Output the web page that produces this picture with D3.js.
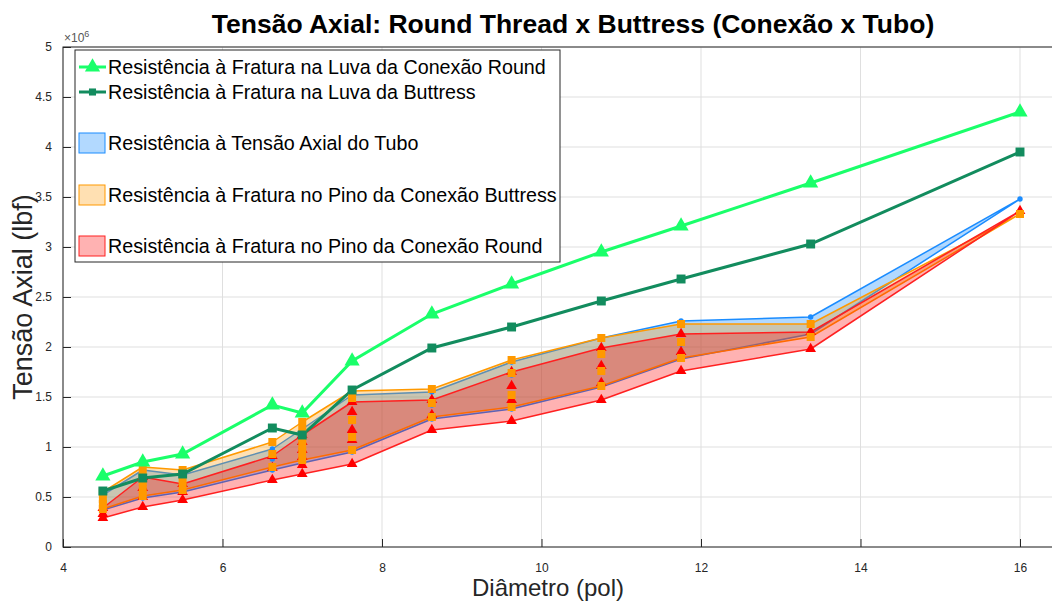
<!DOCTYPE html>
<html>
<head>
<meta charset="utf-8">
<script src="https://cdn.jsdelivr.net/npm/d3@7"></script>
<style>
  body { margin: 0; background: #fff; }
  svg { display: block; font-family: "Liberation Sans", Arial, Helvetica, sans-serif; }
</style>
</head>
<body>
<div id="canvas"></div>
<script>
// diameters (pol)
var diam = [4.5, 5, 5.5, 6.625, 7, 7.625, 8.625, 9.625, 10.75, 11.75, 13.375, 16];

// luva (coupling) fracture strength, x 1e6 lbf
var luvaRound    = [0.71, 0.85, 0.93, 1.42, 1.34, 1.86, 2.33, 2.63, 2.95, 3.21, 3.64, 4.35];
var luvaButtress = [0.56, 0.69, 0.73, 1.19, 1.12, 1.57, 1.99, 2.20, 2.46, 2.68, 3.03, 3.95];

// tube body yield, one list of grades per diameter
var tubo = [
  [0.37, 0.44, 0.52],
  [0.49, 0.56, 0.63, 0.70, 0.77],
  [0.55, 0.63, 0.72],
  [0.77, 0.88, 0.98],
  [0.84, 0.92, 1.00, 1.08, 1.18],
  [0.95, 1.09, 1.26, 1.47, 1.52],
  [1.28, 1.42, 1.55],
  [1.38, 1.50, 1.72, 1.85],
  [1.60, 1.75, 1.92, 2.09],
  [1.88, 2.03, 2.26],
  [2.13, 2.30],
  [3.48]
];

// pin fracture, buttress
var pinoButtress = [
  [0.38, 0.43, 0.48, 0.55],
  [0.51, 0.58, 0.65, 0.72, 0.80],
  [0.57, 0.65, 0.77],
  [0.80, 0.93, 1.05],
  [0.87, 0.95, 1.02, 1.10, 1.17, 1.25],
  [0.97, 1.10, 1.27, 1.49, 1.56],
  [1.30, 1.44, 1.58],
  [1.40, 1.52, 1.74, 1.87],
  [1.61, 1.76, 1.93, 2.09],
  [1.89, 2.05, 2.23],
  [2.10, 2.23],
  [3.33]
];

// pin fracture, round
var pinoRound = [
  [0.29, 0.33, 0.39],
  [0.40, 0.50, 0.59, 0.70],
  [0.47, 0.55, 0.63],
  [0.67, 0.79, 0.91],
  [0.73, 0.82, 0.90, 0.97, 1.05, 1.12],
  [0.83, 1.07, 1.17, 1.35, 1.45],
  [1.17, 1.32, 1.47],
  [1.26, 1.47, 1.61, 1.75],
  [1.47, 1.64, 1.81, 1.99],
  [1.76, 1.95, 2.13],
  [1.98, 2.15],
  [3.36]
];

var xTicks = [4, 6, 8, 10, 12, 14, 16];
var xGrid = [4, 6, 8, 10, 12, 14, 16, 18];
var yTicks = [0, 0.5, 1, 1.5, 2, 2.5, 3, 3.5, 4, 4.5, 5];

var legendLabels = [
  'Resistência à Fratura na Luva da Conexão Round',
  'Resistência à Fratura na Luva da Buttress',
  'Resistência à Tensão Axial do Tubo',
  'Resistência à Fratura no Pino da Conexão Buttress',
  'Resistência à Fratura no Pino da Conexão Round'
];

var W = 1052, H = 604;
var m = {t:47, l:63};
var svg = d3.select('#canvas').append('svg')
    .attr('width', W).attr('height', H);

var scaleX = d3.scaleLinear().domain([4, 18]).range([m.l, m.l + 14 * 79.75]);
var scaleY = d3.scaleLinear().domain([0, 5]).range([547, 47]);
var axisCol = '#262626';

// grid
var grid = svg.append('g');
grid.selectAll('.gx').data(xGrid).enter().append('line')
    .attr('x1', d => scaleX(d)).attr('x2', d => scaleX(d))
    .attr('y1', scaleY(0)).attr('y2', scaleY(5))
    .attr('stroke', '#dfdfdf').attr('stroke-width', 1);
grid.selectAll('.gy').data(yTicks).enter().append('line')
    .attr('x1', scaleX(4)).attr('x2', scaleX(18))
    .attr('y1', d => scaleY(d)).attr('y2', d => scaleY(d))
    .attr('stroke', '#dfdfdf').attr('stroke-width', 1);

// bands
var bands = [
  {vals: tubo, fill: '#0080ff', edge: '#1a8cff', label: legendLabels[2]},
  {vals: pinoButtress, fill: '#ff9900', edge: '#ff9900', label: legendLabels[3]},
  {vals: pinoRound, fill: '#ff0000', edge: '#ff2020', label: legendLabels[4]}
];

var area = d3.area()
    .x((d, i) => scaleX(diam[i]))
    .y0(d => scaleY(d3.min(d)))
    .y1(d => scaleY(d3.max(d)));

bands.forEach(function(b){
  svg.append('path').datum(b.vals)
    .attr('d', area)
    .attr('fill', b.fill).attr('fill-opacity', 0.3)
    .attr('stroke', b.edge).attr('stroke-width', 1.5)
    .attr('stroke-linejoin', 'round');
});

// lines for luva
var line = d3.line().x((d, i) => scaleX(diam[i])).y(d => scaleY(d));
svg.append('path').datum(luvaButtress).attr('d', line)
  .attr('fill', 'none').attr('stroke', '#128c5e').attr('stroke-width', 3);
svg.append('path').datum(luvaRound).attr('d', line)
  .attr('fill', 'none').attr('stroke', '#1aff6a').attr('stroke-width', 3);

// markers of the bands
function flat(vals){
  var out = [];
  vals.forEach((arr, i) => arr.forEach(v => out.push([diam[i], v])));
  return out;
}
var tri = d3.symbol().type(d3.symbolTriangle);
var sq = d3.symbol().type(d3.symbolSquare);

svg.append('g').selectAll('circle').data(flat(tubo)).enter().append('circle')
  .attr('cx', d => scaleX(d[0])).attr('cy', d => scaleY(d[1])).attr('r', 2.7)
  .attr('fill', '#1a8cff');
svg.append('g').selectAll('path').data(flat(pinoRound)).enter().append('path')
  .attr('d', tri.size(50)())
  .attr('transform', d => 'translate(' + scaleX(d[0]) + ',' + scaleY(d[1]) + ')')
  .attr('fill', '#ff0000');
svg.append('g').selectAll('path').data(flat(pinoButtress)).enter().append('path')
  .attr('d', sq.size(64)())
  .attr('transform', d => 'translate(' + scaleX(d[0]) + ',' + scaleY(d[1]) + ')')
  .attr('fill', '#ff9900');

// luva markers
svg.append('g').selectAll('path').data(luvaButtress).enter().append('path')
  .attr('d', sq.size(80)())
  .attr('transform', (d, i) => 'translate(' + scaleX(diam[i]) + ',' + scaleY(d) + ')')
  .attr('fill', '#128c5e');
svg.append('g').selectAll('path').data(luvaRound).enter().append('path')
  .attr('d', tri.size(100)())
  .attr('transform', (d, i) => 'translate(' + scaleX(diam[i]) + ',' + scaleY(d) + ')')
  .attr('fill', '#1aff6a');

// axes box + ticks (inside)
var ax = svg.append('g');
ax.append('rect').attr('x', scaleX(4)).attr('y', scaleY(5))
  .attr('width', scaleX(18) - scaleX(4)).attr('height', scaleY(0) - scaleY(5))
  .attr('fill', 'none').attr('stroke', axisCol).attr('stroke-width', 1);

var axisX = d3.axisBottom(scaleX).tickValues(xTicks).tickSize(-8).tickPadding(16)
  .tickFormat(d3.format('d'));
var axisY = d3.axisLeft(scaleY).tickValues(yTicks).tickSize(-8).tickPadding(14)
  .tickFormat(d => d);
var gx = ax.append('g').attr('transform', 'translate(0,' + scaleY(0) + ')').call(axisX);
var gy = ax.append('g').attr('transform', 'translate(' + scaleX(4) + ',0)').call(axisY);
[gx, gy].forEach(function(g){
  g.select('.domain').remove();
  g.selectAll('line').attr('stroke', axisCol);
  g.selectAll('text').attr('fill', axisCol).style('font-size', '12px')
    .style('font-family', '"Liberation Sans", Arial, sans-serif');
});
gy.selectAll('text').attr('dx', '3');

// exponent label
var ex = svg.append('text').attr('x', 64).attr('y', 42).attr('fill', '#555')
  .style('font-size', '12px');
ex.append('tspan').text('\u00d710');
ex.append('tspan').attr('dy', -5).style('font-size', '9px').text('6');

// title & axis labels
svg.append('text').attr('x', 573).attr('y', 33).attr('text-anchor', 'middle')
  .style('font-size', '26.5px').style('font-weight', 'bold').attr('fill', '#000')
  .text('Tensão Axial: Round Thread x Buttress (Conexão x Tubo)');
svg.append('text').attr('x', 548).attr('y', 596).attr('text-anchor', 'middle')
  .style('font-size', '24px').attr('fill', axisCol).text('Diâmetro (pol)');
svg.append('text').attr('transform', 'translate(32,297) rotate(-90)')
  .attr('text-anchor', 'middle').style('font-size', '27px').attr('fill', axisCol)
  .text('Tensão Axial (lbf)');

// legend
var lg = svg.append('g');
lg.append('rect').attr('x', 75).attr('y', 50).attr('width', 485).attr('height', 212)
  .attr('fill', '#fff').attr('stroke', axisCol).attr('stroke-width', 1);
var lineItems = [
  {y: 67, col: '#1aff6a', sym: tri.size(100)()},
  {y: 92, col: '#128c5e', sym: sq.size(50)()}
];
lineItems.forEach(function(it, i){
  lg.append('line').attr('x1', 79).attr('x2', 106).attr('y1', it.y).attr('y2', it.y)
    .attr('stroke', it.col).attr('stroke-width', 3);
  lg.append('path').attr('d', it.sym).attr('transform', 'translate(92.5,' + it.y + ')')
    .attr('fill', it.col);
  lg.append('text').attr('x', 108).attr('y', it.y + 7).style('font-size', '19.7px')
    .attr('fill', '#000').text(legendLabels[i]);
});
var patchY = [143, 195, 246];
bands.forEach(function(b, i){
  lg.append('rect').attr('x', 79).attr('y', patchY[i] - 10).attr('width', 26).attr('height', 20)
    .attr('fill', b.fill).attr('fill-opacity', 0.3)
    .attr('stroke', b.edge).attr('stroke-width', 1);
  lg.append('text').attr('x', 108).attr('y', patchY[i] + 7).style('font-size', '19.7px')
    .attr('fill', '#000').text(b.label);
});
</script>
</body>
</html>
